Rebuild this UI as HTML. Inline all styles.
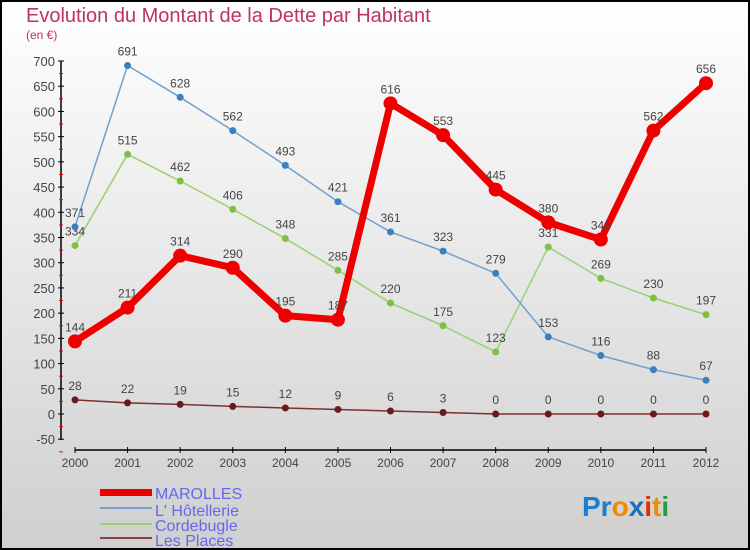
<!DOCTYPE html>
<html><head><meta charset="utf-8"><style>
body{margin:0;width:750px;height:550px;overflow:hidden;font-family:"Liberation Sans",sans-serif}
svg{display:block}
</style></head><body>
<svg width="750" height="550" xmlns="http://www.w3.org/2000/svg">
<defs><linearGradient id="bg" x1="0" y1="0" x2="0" y2="1"><stop offset="0" stop-color="#ffffff"/><stop offset="1" stop-color="#cfcfcf"/></linearGradient></defs>
<rect x="1" y="1" width="748" height="548" fill="url(#bg)" stroke="#000" stroke-width="2"/>
<text x="26" y="22" font-size="20" fill="#c0306a">Evolution du Montant de la Dette par Habitant</text>
<text x="26" y="39" font-size="12" fill="#c0306a">(en €)</text>
<g id="axes"></g><g id="series"></g>
<g>
<rect x="100" y="489" width="52" height="7" fill="#e00"/>
<text x="155" y="499" font-size="16" fill="#6666ee">MAROLLES</text>
<rect x="100" y="507" width="52" height="2" fill="#6fa0d0"/>
<text x="155" y="516" font-size="16" fill="#6666ee">L' Hôtellerie</text>
<rect x="100" y="523" width="52" height="2" fill="#99d070"/>
<text x="155" y="531" font-size="16" fill="#6666ee">Cordebugle</text>
<rect x="100" y="537" width="52" height="2" fill="#884444"/>
<text x="155" y="546" font-size="16" fill="#6666ee">Les Places</text>
</g>
<text x="582" y="516" font-size="28" font-weight="bold"><tspan fill="#1a7fd0">Pr</tspan><tspan fill="#f08a00">o</tspan><tspan fill="#1a6fc0">x</tspan><tspan fill="#e03000">i</tspan><tspan fill="#f08a00">t</tspan><tspan fill="#2a9a40">i</tspan></text>
</svg>
<script>
const years=[2000,2001,2002,2003,2004,2005,2006,2007,2008,2009,2010,2011,2012];
const yTicks=[-50,0,50,100,150,200,250,300,350,400,450,500,550,600,650,700];
const marolles=[144,211,314,290,195,187,616,553,445,380,346,562,656];
const hotellerie=[371,691,628,562,493,421,361,323,279,153,116,88,67];
const cordebugle=[334,515,462,406,348,285,220,175,123,331,269,230,197];
const lesPlaces=[28,22,19,15,12,9,6,3,0,0,0,0,0];
const NS="http://www.w3.org/2000/svg";
const xs=i=>75+i*(706-75)/12;
const ys=v=>414-v*(414-61)/700;
function mk(p,t,a){const e=document.createElementNS(NS,t);for(const k in a)e.setAttribute(k,a[k]);p.appendChild(e);return e;}
const ax=document.getElementById('axes');
let l=mk(ax,'line',{x1:61,y1:61,x2:61,y2:440,stroke:'#000','stroke-width':1.5});


yTicks.forEach(v=>{const y=ys(v);
mk(ax,'line',{x1:58,y1:y,x2:64,y2:y,stroke:'#000'});
mk(ax,'line',{x1:59,y1:y+12.6,x2:63,y2:y+12.6,stroke:'#e00'});
const t=mk(ax,'text',{x:55,y:y+5,'text-anchor':'end','font-size':13,fill:'#444'});t.textContent=v;

});
l=mk(ax,'line',{x1:75,y1:450,x2:706,y2:450,stroke:'#000','stroke-width':1.5});


years.forEach((yr,i)=>{const x=xs(i);mk(ax,'line',{x1:x,y1:447,x2:x,y2:453,stroke:'#000'});
const t=mk(ax,'text',{x:x,y:467,'text-anchor':'middle','font-size':12,fill:'#444'});t.textContent=yr;

});
const sg=document.getElementById('series');
function draw(vals,color,w,r,name,dot){const g=mk(sg,'g',{});


mk(g,'polyline',{points:vals.map((v,i)=>xs(i)+','+ys(v)).join(' '),fill:'none',stroke:color,'stroke-width':w,'stroke-linejoin':'round'});
vals.forEach((v,i)=>{const c=mk(g,'circle',{cx:xs(i),cy:ys(v),r:r,fill:dot||color});


const t=mk(g,'text',{x:xs(i),y:ys(v)-10,'text-anchor':'middle','font-size':12,fill:'#444'});t.textContent=v;

});}
draw(lesPlaces,'#7a3030',1.5,3.5,'les-places','#6a1a1a');
draw(cordebugle,'#99d070',1.5,3.5,'cordebugle','#80c040');
draw(hotellerie,'#6fa0d0',1.5,3.5,'hotellerie','#3a80c0');
draw(marolles,'#ee0000',7,7,'marolles');
</script>
</body></html>
